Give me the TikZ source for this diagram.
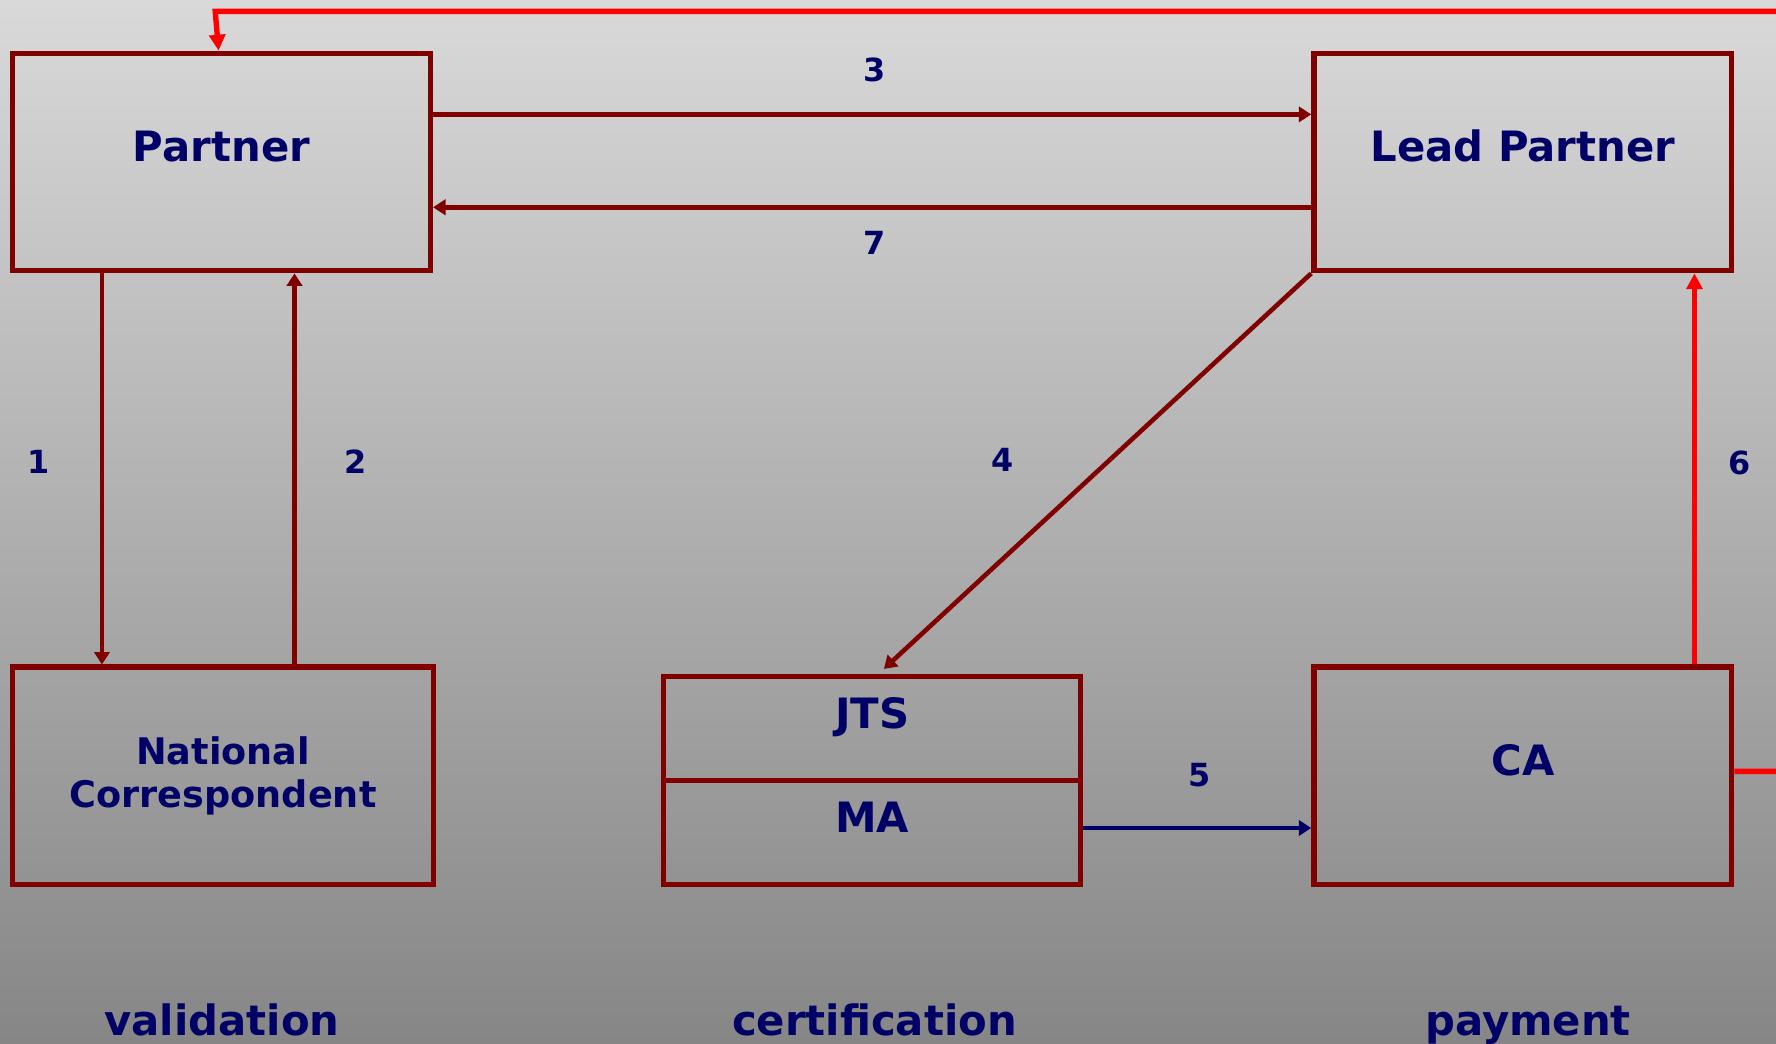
\documentclass[tikz,border=0pt]{standalone}
\usepackage{fontspec}
\setmainfont{DejaVu Sans}
\usetikzlibrary{arrows.meta,calc}
\definecolor{boxred}{RGB}{128,0,0}
\definecolor{navytext}{RGB}{0,0,102}
\definecolor{brightred}{RGB}{255,0,0}
\begin{document}
\begin{tikzpicture}[x=0.02cm,y=-0.02cm,
  box/.style={draw=boxred, line width=2.7pt, rectangle, inner sep=0pt, text=navytext,
    font=\fontsize{21}{25}\selectfont\bfseries, text height=15pt, text depth=15pt},
  bigbox/.style={box, minimum width=7.38cm, minimum height=3.84cm},
  cellbox/.style={box, minimum width=7.36cm, minimum height=1.84cm},
  ncbox/.style={draw=boxred, line width=2.7pt, rectangle, inner sep=0pt, text=navytext,
    font=\fontsize{18.4}{22.1}\selectfont\bfseries, align=center,
    minimum width=7.44cm, minimum height=3.84cm},
  flow/.style={draw=boxred, line width=2.3pt, -{Triangle[length=0.22cm,width=0.27cm]}},
  redflow/.style={draw=brightred, line width=2.7pt, -{Triangle[length=0.28cm,width=0.28cm]}},
  blueflow/.style={draw=navytext, line width=2.3pt, -{Triangle[length=0.22cm,width=0.27cm]}},
  num/.style={text=navytext, font=\fontsize{16}{19}\selectfont\bfseries, inner sep=0pt},
  phase/.style={text=navytext, font=\fontsize{21}{25}\selectfont\bfseries, inner sep=0pt, anchor=base}
]
\useasboundingbox (0,0) rectangle (1568,921);
\clip (0,0) rectangle (1568,921);
\shade[top color={rgb,255:red,217;green,217;blue,217}, bottom color={rgb,255:red,134;green,134;blue,134}] (0,0) rectangle (1568,921);

% boxes
\node[bigbox] (P) at (195.5,143) {Partner};
\node[bigbox] (LP) at (1344.5,143) {Lead Partner};
\node[ncbox] (NC) at (197,685) {National\\Correspondent};
\node[cellbox] (JTS) at (770,643) {JTS};
\node[cellbox] (MA) at (770,735) {MA};
\node[bigbox] (CA) at (1344.5,685) {CA};

% helper coordinates
\coordinate (c1) at (90,0);
\coordinate (c2) at (260,0);
\coordinate (c3) at (0,101);
\coordinate (c7) at (0,183);
\coordinate (c4) at (776,0);
\coordinate (c5) at (0,731);
\coordinate (c6) at (1496,0);
\coordinate (c8) at (0,681);
\coordinate (c9) at (193,0);
\coordinate (r1) at (1620,681);
\coordinate (r2) at (1620,10);
\coordinate (r3) at (190,10);

% connectors
\draw[flow] (P.south -| c1) -- (NC.north -| c1)
  node[num, midway, shift={(-56,-6)}] (n1) {1};
\draw[flow] (NC.north -| c2) -- (P.south -| c2)
  node[num, midway, shift={(54,-6)}] (n2) {2};
\draw[flow] (P.east |- c3) -- (LP.west |- c3)
  node[num, midway, shift={(2,-39)}] (n3) {3};
\draw[flow] (LP.west |- c7) -- (P.east |- c7)
  node[num, midway, shift={(2,31)}] (n7) {7};
\draw[flow, shorten >=0.12cm] (LP.south west) -- (JTS.north -| c4)
  node[num, midway, shift={(-82,-12)}] (n4) {4};
\draw[blueflow] (MA.east |- c5) -- (CA.west |- c5)
  node[num, midway, shift={(2,-47)}] (n5) {5};
\draw[redflow] (CA.north -| c6) -- (LP.south -| c6)
  node[num, midway, shift={(40,-5)}] (n6) {6};
\draw[redflow] (CA.east |- c8) -- (r1) -- (r2) -- (r3) -- (P.north -| c9);

% phase labels
\node[phase] (v) at (196,914) {validation};
\node[phase] (c) at (772,914) {certification};
\node[phase] (p) at (1349,914) {payment};
\end{tikzpicture}
\end{document}
